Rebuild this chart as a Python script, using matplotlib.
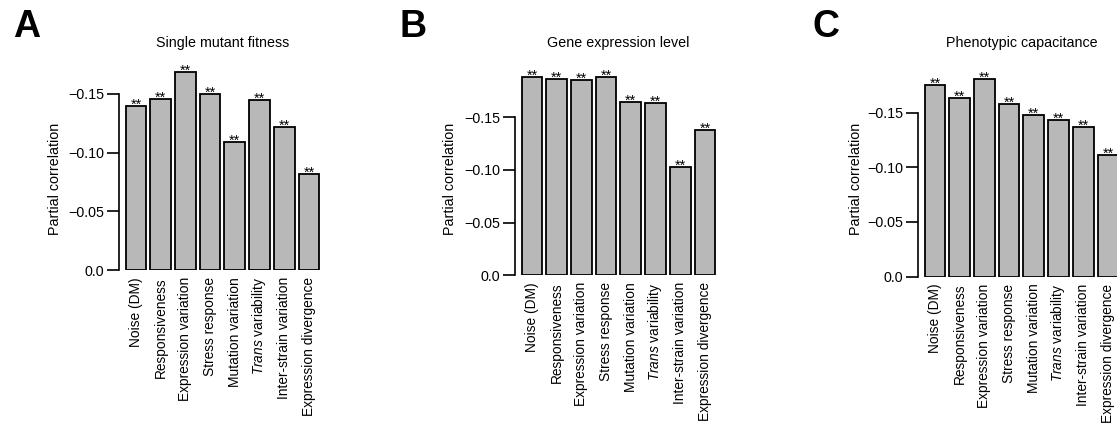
import matplotlib
matplotlib.use("Agg")
import matplotlib.pyplot as plt
from matplotlib import transforms

plt.rcParams['font.family'] = ['Liberation Sans', 'DejaVu Sans']
plt.rcParams['mathtext.fontset'] = 'custom'
plt.rcParams['mathtext.rm'] = 'Liberation Sans'
plt.rcParams['mathtext.it'] = 'Liberation Sans:italic'

# data
categories = ['Noise (DM)', 'Responsiveness', 'Expression variation', 'Stress response',
              'Mutation variation', r'$\it{Trans}$ variability', 'Inter-strain variation',
              'Expression divergence']
fitness = [-0.140, -0.146, -0.169, -0.150, -0.109, -0.145, -0.122, -0.082]
expression = [-0.188, -0.186, -0.185, -0.188, -0.164, -0.163, -0.103, -0.138]
capacitance = [-0.175, -0.163, -0.181, -0.158, -0.148, -0.143, -0.137, -0.111]
titles = ['Single mutant fitness', 'Gene expression level', 'Phenotypic capacitance']
letters = ['A', 'B', 'C']
yticks = [0, -0.05, -0.10, -0.15]
ytick_labels = ['0.0', '\u22120.05', '\u22120.10', '\u22120.15']

W, H = 1117, 428
fs = 10.3
fig = plt.figure(figsize=(W / 100, H / 100), dpi=100)

# layout in pixels: spine x, y of zero, px per 0.05, letter x, ylabel x
layout = [(119, 270.0, 58.7, 13, 55),
          (515, 275.3, 52.7, 400, 450),
          (918, 276.7, 54.7, 813, 856)]
top_px = 55
px_unit = 20.6
x0, x1 = -0.12, 9.7
pos = [0.7 + 1.2 * i for i in range(len(categories))]

for vals, title, letter, (sx, zy, ppu, lx, ylx) in zip([fitness, expression, capacitance],
                                                       titles, letters, layout):
    w = (x1 - x0) * px_unit
    ax = fig.add_axes([sx / W, 1 - zy / H, w / W, (zy - top_px) / H])
    ax.bar(pos, vals, width=1.0, color='#b8b8b8', edgecolor='black', linewidth=1.3)
    ax.set_xlim(x0, x1)
    ax.set_ylim(0, -(zy - top_px) / ppu * 0.05)
    for p, v in zip(pos, vals):
        ax.annotate('**', (p, v), xytext=(0, -2), textcoords='offset points',
                    ha='center', va='baseline', fontsize=fs)
    ax.set_xticks(pos)
    ax.set_xticklabels(categories, rotation=90, fontsize=9.9, va='top')
    ax.tick_params(axis='x', length=0, pad=5)
    ax.set_yticks(yticks)
    ax.set_yticklabels(ytick_labels, fontsize=fs)
    ax.tick_params(axis='y', length=8.5, width=1.2, pad=2, direction='out')
    for s in ['top', 'right', 'bottom']:
        ax.spines[s].set_visible(False)
    ax.spines['left'].set_linewidth(1.2)
    ax.spines['left'].set_bounds(-0.15, 0)
    ax.set_ylabel('Partial correlation', fontsize=fs, va='center')
    ax.yaxis.set_label_coords(ylx / W, 1 - 179 / H, transform=fig.transFigure)
    tr = transforms.blended_transform_factory(ax.transData, fig.transFigure)
    fig.text(4.9, 1 - 43 / H, title, transform=tr, ha='center', va='center', fontsize=fs)
    fig.text(lx / W, 1 - 37 / H, letter, ha='left', va='baseline', fontsize=27,
             fontweight='bold')

fig.savefig('out.png', dpi=100)
